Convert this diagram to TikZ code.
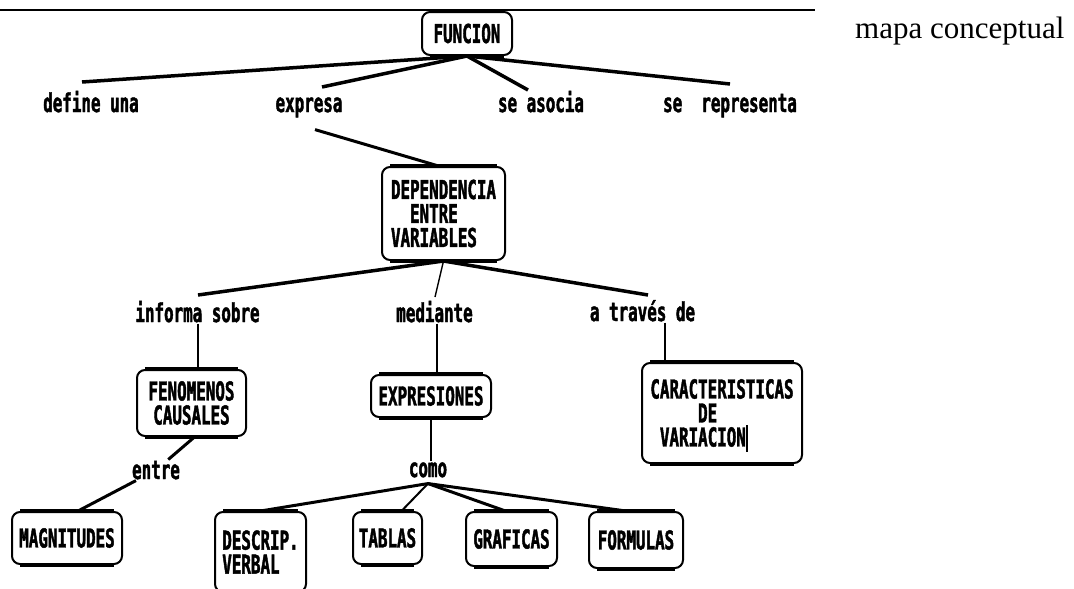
\documentclass[tikz,border=0pt]{standalone}
\usepackage{fontspec}
\setmainfont{Liberation Serif}
\newfontfamily\pixfont{DejaVu Sans Mono}[FakeStretch=0.61, BoldFeatures={FakeBold=1.6}]
\usetikzlibrary{calc}
\tikzset{
    concept/.style={draw, line width=2pt, rounded corners=8pt, inner sep=0pt, align=center, font=\pixfont\bfseries\fontsize{26}{24}\selectfont},
    linkword/.style={anchor=base, inner sep=1pt, font=\pixfont\bfseries\fontsize{26}{24}\selectfont},
    branch/.style={line width=3.5pt},
    stem/.style={line width=2pt},
    thinlink/.style={line width=1.4pt}
}
\begin{document}
\begin{tikzpicture}[x=1pt, y=-1pt]
\useasboundingbox (0,0) rectangle (1074,589);
\draw[line width=2pt] (0,10) -- (815,10);
\node[anchor=base west, inner sep=0pt, font=\fontsize{31}{36}\selectfont] (title) at (855,38) {mapa conceptual};

% concepts
\node[concept, minimum width=90pt, minimum height=43pt] (funcion) at (467,33.5) {FUNCION};
\node[concept, minimum width=123pt, minimum height=93pt, align=left] (dep) at (443.5,213.5) {DEPENDENCIA\\\phantom{DE}ENTRE\\VARIABLES};
\node[concept, minimum width=109pt, minimum height=66pt] (fen) at (191.5,403) {FENOMENOS\\CAUSALES};
\node[concept, minimum width=120pt, minimum height=42pt] (expr) at (431,396) {EXPRESIONES};
\node[concept, minimum width=160pt, minimum height=100pt, align=left] (caract) at (722,413) {CARACTERISTICAS\\\phantom{CARAC}DE\\\phantom{C}VARIACION};
\node[concept, minimum width=110pt, minimum height=52pt] (mag) at (67,538) {MAGNITUDES};
\node[concept, minimum width=91pt, minimum height=80pt, align=left] (desc) at (260.5,552) {DESCRIP.\\VERBAL};
\node[concept, minimum width=69pt, minimum height=52pt] (tab) at (387.5,538) {TABLAS};
\node[concept, minimum width=91pt, minimum height=54pt] (graf) at (511.5,539) {GRAFICAS};
\node[concept, minimum width=94pt, minimum height=56pt] (form) at (636,540) {FORMULAS};
\foreach \b in {funcion,dep,fen,expr,caract,mag,desc,tab,graf,form}{
    \draw[line width=4pt] ([xshift=9pt]\b.north west) -- ([xshift=-9pt]\b.north east);
    \draw[line width=4pt] ([xshift=9pt]\b.south west) -- ([xshift=-9pt]\b.south east);
}
\draw[thinlink] (747,425) -- (747,452);

% linking words
\node[linkword] (defuna) at (91,112) {define una};
\node[linkword] (expresa) at (309,112) {expresa};
\node[linkword] (seasocia) at (541,112) {se asocia};
\node[linkword] (serepr) at (730,112) {se\ \ representa};
\node[linkword] (informa) at (197.5,322) {informa sobre};
\node[linkword] (mediante) at (434.5,322) {mediante};
\node[linkword] (atraves) at (642.5,321) {a través de};
\node[linkword, fill=white] (entre) at (156,479) {entre};
\node[linkword] (como) at (428,477) {como};

\coordinate (e1) at (82,82);
\coordinate (e2) at (322,87);
\coordinate (e3) at (528,90);
\coordinate (e4) at (730,84);
\coordinate (e5) at (198,295);
\coordinate (e6) at (435,297);
\coordinate (e7) at (648,295);

% connectors
\draw[branch] (funcion.south) -- (e1);
\draw[branch] (funcion.south) -- (e2);
\draw[branch] (funcion.south) -- (e3);
\draw[branch] (funcion.south) -- (e4);
\draw[branch, line width=3pt] ([shift={(6,11)}]expresa.south) -- ([xshift=-5pt]dep.north);
\draw[branch] (dep.south) -- (e5);
\draw[thinlink] (dep.south) -- (e6);
\draw[branch] (dep.south) -- (e7);
\draw[stem] (informa.south) -- (informa.south |- fen.north);
\draw[stem] ([xshift=2pt]mediante.south) -- ([xshift=2pt]mediante.south |- expr.north);
\draw[stem] ([xshift=22pt]atraves.south) -- ([xshift=22pt]atraves.south |- caract.north);
\draw[branch, line width=3pt] ([xshift=3pt]fen.south) -- (entre) -- ([xshift=11pt]mag.north);
\draw[stem] (expr.south) -- (expr.south |- como.north);
\draw[branch, line width=3pt] ([yshift=-5pt]como.south) -- (desc.north);
\draw[stem] ([yshift=-5pt]como.south) -- ([xshift=14pt]tab.north);
\draw[branch, line width=3pt] ([yshift=-5pt]como.south) -- ([xshift=-6pt]graf.north);
\draw[branch, line width=3pt] ([yshift=-5pt]como.south) -- ([xshift=-10pt]form.north);
\end{tikzpicture}
\end{document}
